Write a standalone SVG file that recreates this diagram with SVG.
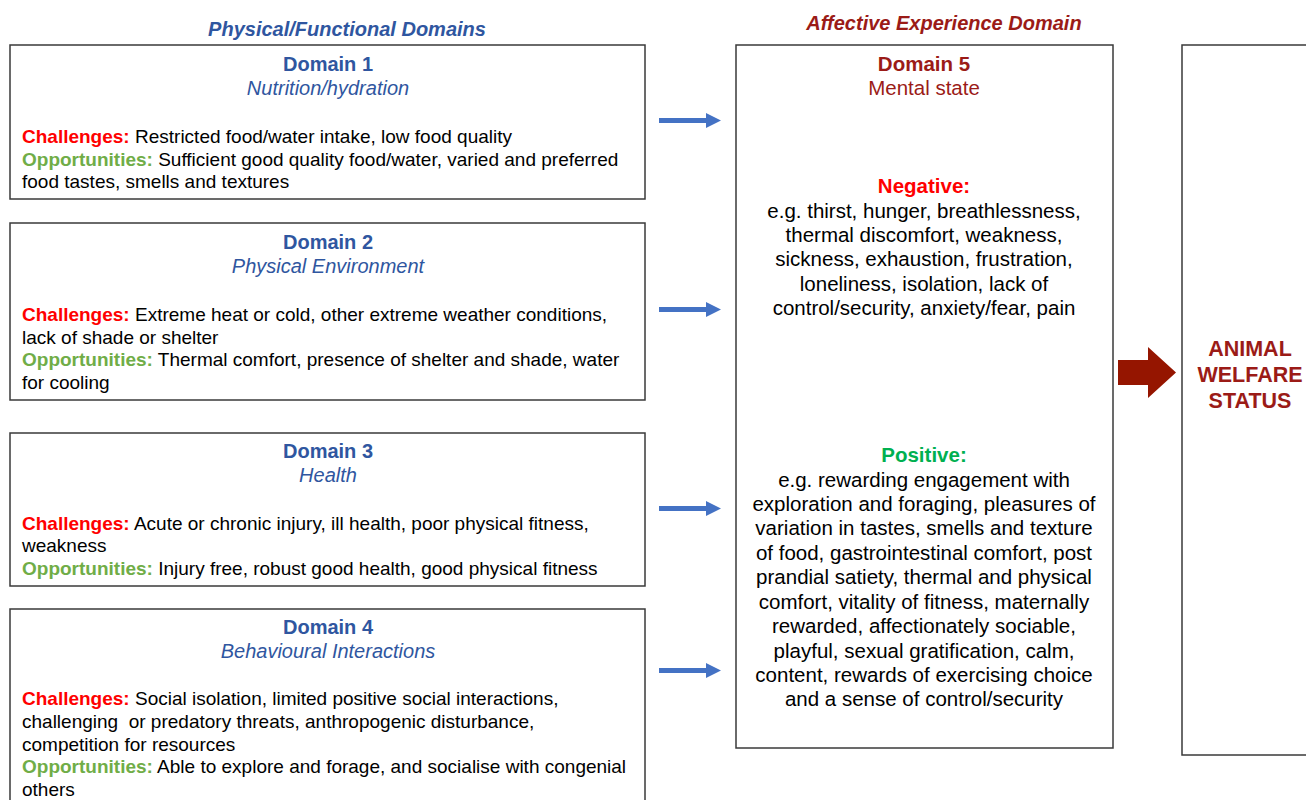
<svg xmlns="http://www.w3.org/2000/svg" width="1306" height="800" viewBox="0 0 1306 800">
<defs>
<style>
text{font-family:"Liberation Sans",Arial,sans-serif;}
.box{fill:#fff;stroke:#3a3a3a;stroke-width:1.5;}
.hd{font-size:20px;font-weight:bold;fill:#2F56A0;text-anchor:middle;}
.sub{font-size:20px;font-style:italic;fill:#2F56A0;text-anchor:middle;}
.t{font-size:19px;fill:#000;}
.ch{fill:#FF0000;font-weight:bold;}
.op{fill:#70AD47;font-weight:bold;}
.c5{font-size:20.5px;fill:#000;text-anchor:middle;}
.dr{fill:#9B1B17;}
.neg{fill:#FF0000;font-weight:bold;}
.pos{fill:#00B050;font-weight:bold;}
.ttl{font-size:20px;font-weight:bold;font-style:italic;text-anchor:middle;}
.aws{font-size:21.5px;font-weight:bold;fill:#9B1B17;text-anchor:middle;}
.arr{fill:#4472C4;}
</style>
</defs>
<rect width="1306" height="800" fill="#fff"/>
<text class="ttl" x="347" y="36" fill="#2F56A0">Physical/Functional Domains</text>
<text class="ttl" x="944" y="30" fill="#9B1B17">Affective Experience Domain</text>

<g id="domain1">
<rect class="box" x="10" y="45" width="635" height="154"/>
<text class="hd" x="328" y="71">Domain 1</text>
<text class="sub" x="328" y="95">Nutrition/hydration</text>
<text class="t" x="22" y="143"><tspan class="ch">Challenges:</tspan> Restricted food/water intake, low food quality</text>
<text class="t" x="22" y="166"><tspan class="op">Opportunities:</tspan> Sufficient good quality food/water, varied and preferred</text>
<text class="t" x="22" y="188">food tastes, smells and textures</text>
</g>

<g id="domain2">
<rect class="box" x="10" y="223" width="635" height="177"/>
<text class="hd" x="328" y="249">Domain 2</text>
<text class="sub" x="328" y="273">Physical Environment</text>
<text class="t" x="22" y="321"><tspan class="ch">Challenges:</tspan> Extreme heat or cold, other extreme weather conditions,</text>
<text class="t" x="22" y="344">lack of shade or shelter</text>
<text class="t" x="22" y="366"><tspan class="op">Opportunities:</tspan> Thermal comfort, presence of shelter and shade, water</text>
<text class="t" x="22" y="389">for cooling</text>
</g>

<g id="domain3">
<rect class="box" x="10" y="433" width="635" height="153"/>
<text class="hd" x="328" y="458">Domain 3</text>
<text class="sub" x="328" y="482">Health</text>
<text class="t" x="22" y="530"><tspan class="ch">Challenges:</tspan> Acute or chronic injury, ill health, poor physical fitness,</text>
<text class="t" x="22" y="552">weakness</text>
<text class="t" x="22" y="575"><tspan class="op">Opportunities:</tspan> Injury free, robust good health, good physical fitness</text>
</g>

<g id="domain4">
<rect class="box" x="10" y="609" width="635" height="200"/>
<text class="hd" x="328" y="634">Domain 4</text>
<text class="sub" x="328" y="658">Behavioural Interactions</text>
<text class="t" x="22" y="705"><tspan class="ch">Challenges:</tspan> Social isolation, limited positive social interactions,</text>
<text class="t" x="22" y="728" xml:space="preserve">challenging  or predatory threats, anthropogenic disturbance,</text>
<text class="t" x="22" y="751">competition for resources</text>
<text class="t" x="22" y="773"><tspan class="op">Opportunities:</tspan> Able to explore and forage, and socialise with congenial</text>
<text class="t" x="22" y="796">others</text>
</g>

<g id="domain5">
<rect class="box" x="736" y="45" width="377" height="703"/>
<text class="c5" x="924" y="71"><tspan class="dr" font-weight="bold">Domain 5</tspan></text>
<text class="c5" x="924" y="95"><tspan class="dr">Mental state</tspan></text>
<text class="c5" x="924" y="193"><tspan class="neg">Negative:</tspan></text>
<text class="c5" x="924" y="218">e.g. thirst, hunger, breathlessness,</text>
<text class="c5" x="924" y="242">thermal discomfort, weakness,</text>
<text class="c5" x="924" y="266">sickness, exhaustion, frustration,</text>
<text class="c5" x="924" y="291">loneliness, isolation, lack of</text>
<text class="c5" x="924" y="315">control/security, anxiety/fear, pain</text>
<text class="c5" x="924" y="462"><tspan class="pos">Positive:</tspan></text>
<text class="c5" x="924" y="487">e.g. rewarding engagement with</text>
<text class="c5" x="924" y="511">exploration and foraging, pleasures of</text>
<text class="c5" x="924" y="535">variation in tastes, smells and texture</text>
<text class="c5" x="924" y="560">of food, gastrointestinal comfort, post</text>
<text class="c5" x="924" y="584">prandial satiety, thermal and physical</text>
<text class="c5" x="924" y="609">comfort, vitality of fitness, maternally</text>
<text class="c5" x="924" y="633">rewarded, affectionately sociable,</text>
<text class="c5" x="924" y="658">playful, sexual gratification, calm,</text>
<text class="c5" x="924" y="682">content, rewards of exercising choice</text>
<text class="c5" x="924" y="706">and a sense of control/security</text>
</g>

<g id="welfare">
<rect class="box" x="1182" y="45" width="140" height="710"/>
<text class="aws" x="1250" y="356">ANIMAL</text>
<text class="aws" x="1250" y="382">WELFARE</text>
<text class="aws" x="1250" y="408">STATUS</text>
</g>

<g id="connectors">
<path class="arr" d="M659,118 H706 V113 L721,120.5 L706,128 V123 H659 Z"/>
<path class="arr" d="M659,307 H706 V302 L721,309.5 L706,317 V312 H659 Z"/>
<path class="arr" d="M659,506 H706 V501 L721,508.5 L706,516 V511 H659 Z"/>
<path class="arr" d="M659,668 H706 V663 L721,670.5 L706,678 V673 H659 Z"/>
<path fill="#951500" d="M1118,360 H1148 V347 L1176,372.5 L1148,398 V385 H1118 Z"/>
</g>
</svg>
